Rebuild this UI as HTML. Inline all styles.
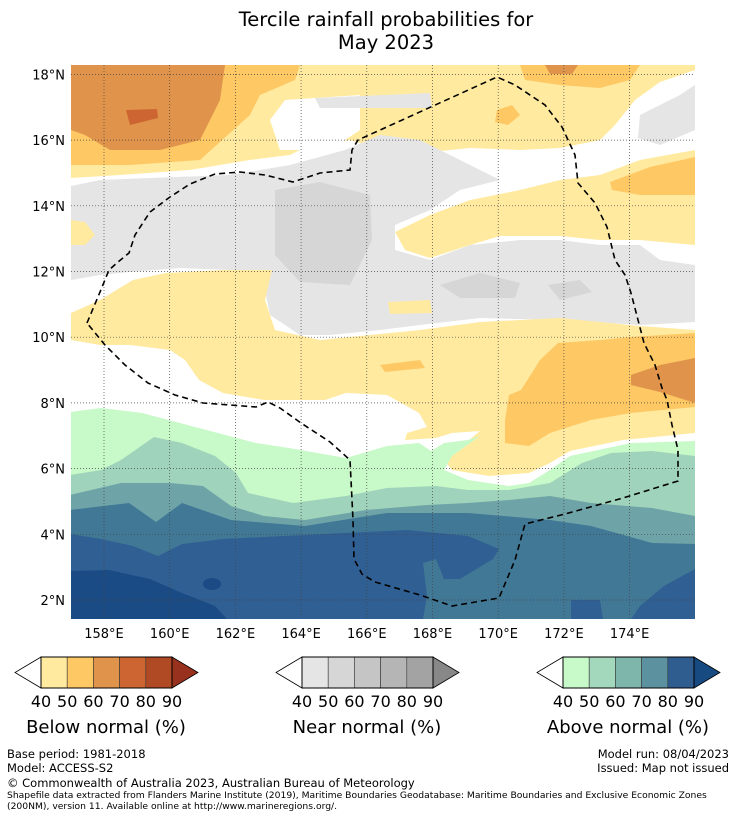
<!DOCTYPE html>
<html><head><meta charset="utf-8">
<style>
body{margin:0;width:736px;height:816px;background:#fff;font-family:"DejaVu Sans","Liberation Sans",sans-serif;overflow:hidden;position:relative}
.t{position:absolute;white-space:nowrap;color:#000}
svg text{font-family:"DejaVu Sans","Liberation Sans",sans-serif}
</style></head>
<body>
<div class="t" style="left:0;width:772px;text-align:center;top:8px;font-size:19.5px;line-height:23px">Tercile rainfall probabilities for<br>May 2023</div>
<svg id="map" width="736" height="816" style="position:absolute;left:0;top:0">
<defs><clipPath id="c"><rect x="71" y="65" width="624" height="554"/></clipPath></defs>
<g clip-path="url(#c)">
<rect x="71" y="65" width="624" height="554" fill="#fff"/>
<polygon fill="#ffeaa0" points="71,65 695,65 695,75 660,85 640,100 620,120 600,140 560,148 520,150 470,148 400,155 350,140 310,145 290,155 250,160 190,170 120,175 71,178"/>
<polygon fill="#fff" points="285,100 360,95 360,130 330,150 280,150 270,120"/>
<polygon fill="#e5e5e5" points="315,98 430,93 432,108 320,108"/>
<polygon fill="#fec965" points="71,65 300,65 295,80 260,95 250,115 200,160 130,165 71,165"/>
<polygon fill="#fec965" points="520,65 640,65 630,80 600,88 560,85 525,80"/>
<polygon fill="#e0934a" points="545,65 578,65 572,74 550,74"/>
<polygon fill="#fec965" points="497,110 512,105 520,115 508,125 495,122"/>
<polygon fill="#e0934a" points="71,65 225,65 220,100 200,140 160,150 110,150 85,135 71,130"/>
<polygon fill="#cd6532" points="126,110 157,109 158,118 130,125"/>
<polygon fill="#fff" points="695,70 660,82 635,100 615,125 600,145 580,160 625,158 660,148 695,140"/>
<polygon fill="#e5e5e5" points="640,115 680,95 695,85 695,130 660,145 638,138"/>
<polygon fill="#e5e5e5" points="71,186 100,180 150,178 230,175 290,165 345,150 380,135 420,140 470,165 500,180 460,190 430,210 395,225 395,250 430,260 470,245 520,240 560,240 600,245 640,245 660,260 695,265 695,322 640,325 560,320 480,318 420,325 380,330 330,335 300,335 270,315 265,290 270,275 230,270 180,268 130,272 100,275 71,280"/>
<polygon fill="#d6d6d6" points="275,190 320,182 370,195 372,240 350,285 300,282 275,255"/>
<polygon fill="#d6d6d6" points="440,285 480,273 520,283 515,298 460,298"/>
<polygon fill="#d6d6d6" points="548,285 580,280 592,292 560,300"/>
<polygon fill="#ffeaa0" points="71,220 85,222 95,235 85,245 71,245"/>
<polygon fill="#ffeaa0" points="395,232 430,215 470,200 520,190 560,180 600,175 640,160 695,150 695,245 640,240 600,240 560,236 500,236 470,245 430,258 405,250"/>
<polygon fill="#fec965" points="610,182 650,167 695,157 695,195 640,195 612,190"/>
<polygon fill="#ffeaa0" points="71,313 100,300 133,280 166,273 223,270 272,270 265,300 275,330 320,340 420,330 480,322 560,318 640,326 695,330 695,433 623,440 570,451 550,463 529,473 489,476 452,470 444,460 468,441 480,431 452,433 436,438 405,440 407,433 427,427 419,413 387,395 346,393 325,400 264,400 223,393 199,380 185,360 170,350 130,345 100,345 71,340"/>
<polygon fill="#ffeaa0" points="388,302 430,300 432,313 390,314"/>
<polygon fill="#fec965" points="380,365 420,360 425,368 385,372"/>
<polygon fill="#fec965" points="521,390 540,360 558,343 600,340 631,337 695,333 695,407 631,413 591,420 550,433 529,446 505,443 505,420 509,395"/>
<polygon fill="#e0934a" points="631,375 660,365 695,358 695,403 660,392 631,385"/>
<polygon fill="#c8f9c8" points="70,412 101,408 142,413 195,427 256,443 289,448 346,458 387,446 419,443 431,451 444,443 468,440 480,436 452,456 444,470 468,480 509,486 529,483 550,470 570,456 631,443 695,441 695,619 71,619"/>
<polygon fill="#a0d3bb" points="70,475 101,470 121,460 154,437 182,443 215,456 236,473 248,493 293,503 346,496 387,488 436,486 468,490 509,490 550,483 582,463 611,453 652,451 695,456 695,619 71,619"/>
<polygon fill="#6ea3a7" points="70,495 121,483 170,483 203,486 231,506 264,516 305,520 366,510 427,505 468,503 509,500 550,496 591,503 652,508 695,516 695,619 71,619"/>
<polygon fill="#417896" points="70,510 129,503 156,522 182,503 231,520 305,526 387,513 468,513 550,520 591,526 652,543 695,544 695,619 71,619"/>
<polygon fill="#305f93" points="70,534 101,539 133,546 158,556 182,544 223,539 284,536 346,533 407,530 468,536 499,549 493,559 460,579 444,579 436,559 423,563 427,596 423,619 71,619"/>
<polygon fill="#305f93" points="695,569 664,586 640,606 631,619 695,619"/>
<polygon fill="#305f93" points="571,600 600,600 603,619 571,619"/>
<polygon fill="#1a4b84" points="71,571 109,570 150,579 182,593 215,606 227,619 71,619"/>
<ellipse cx="212" cy="584" rx="9" ry="6" fill="#1a4b84"/>
<g id="grid"></g>
<polyline fill="none" stroke="#000" stroke-width="1.6" stroke-dasharray="6,4" points="87,323 100,292 109,270 118,262 129,253 135,235 150,212 170,197 190,184 215,174 240,172 265,175 293,182 320,173 350,170 352,150 358,140 497,77 515,85 545,105 562,127 575,155 578,183 595,203 607,227 615,260 625,275 631,293 644,343 655,365 662,388 667,400 672,425 678,450 678,481 623,498 565,514 525,524 515,560 499,598 452,606 420,595 375,582 362,574 354,559 353,520 350,460 330,442 301,423 280,408 268,402 256,407 203,403 175,395 148,383 125,365 105,345 87,323"/>
</g>
<g id="axes"></g>
<g id="cbars"></g>
</svg>
<div class="t" style="left:7px;top:747px;font-size:11.5px">Base period: 1981-2018</div>
<div class="t" style="left:7px;top:761px;font-size:11.5px">Model: ACCESS-S2</div>
<div class="t" style="right:7px;top:747px;font-size:11.5px">Model run: 08/04/2023</div>
<div class="t" style="right:7px;top:761px;font-size:11.5px">Issued: Map not issued</div>
<div class="t" style="left:7px;top:776px;font-size:11.5px">© Commonwealth of Australia 2023, Australian Bureau of Meteorology</div>
<div class="t" style="left:7px;top:790px;font-size:9.2px;line-height:11px">Shapefile data extracted from Flanders Marine Institute (2019), Maritime Boundaries Geodatabase: Maritime Boundaries and Exclusive Economic Zones<br>(200NM), version 11. Available online at http://www.marineregions.org/.</div>
<script>
const lonTicks=[158,160,162,164,166,168,170,172,174];
const latTicks=[2,4,6,8,10,12,14,16,18];
const cbTitles=["Below normal (%)","Near normal (%)","Above normal (%)"];
const cbLevels=[40,50,60,70,80,90];
const belowColors=["#ffeaa0","#fec965","#e0934a","#cd6532","#b04a25","#98321e"];
const nearColors=["#e5e5e5","#d6d6d6","#c5c5c5","#b5b5b5","#a3a3a3","#888888"];
const aboveColors=["#c8f9c8","#a4d8bd","#7fb6ac","#5c92a0","#2f5d90","#164a80"];
const NS="http://www.w3.org/2000/svg";
const xs=lon=>104+(lon-158)*32.85;
const ys=lat=>600-(lat-2)*32.85;
function mk(tag,at,parent){const e=document.createElementNS(NS,tag);for(const k in at)e.setAttribute(k,at[k]);parent.appendChild(e);return e;}
const grid=document.getElementById('grid'),axes=document.getElementById('axes');
lonTicks.forEach(v=>{
 const l=mk('line',{x1:xs(v),x2:xs(v),y1:65,y2:619,stroke:'#444','stroke-width':0.7,'stroke-dasharray':'1,2'},grid);
 
 
 const t=mk('text',{x:xs(v),y:638,'text-anchor':'middle','font-size':13},axes);
 t.textContent=v+'°E';
 
 
});
latTicks.forEach(v=>{
 const l=mk('line',{x1:71,x2:695,y1:ys(v),y2:ys(v),stroke:'#444','stroke-width':0.7,'stroke-dasharray':'1,2'},grid);
 
 
 const t=mk('text',{x:65,y:ys(v)+5,'text-anchor':'end','font-size':13},axes);
 t.textContent=v+'°N';
 
 
});
const cb=document.getElementById('cbars');
const sets=[belowColors,nearColors,aboveColors];
const lefts=[41,302,563];
sets.forEach((cols,i)=>{
 const x0=lefts[i],w=131/(cols.length-1),y0=657,h=31;
 const g=mk('g',{},cb);
 
 
 mk('polygon',{points:`${x0},${y0} ${x0-26},${y0+h/2} ${x0},${y0+h}`,fill:'#fff',stroke:'#000','stroke-width':0.8},g);
 for(let k=0;k<cols.length-1;k++){
  const r=mk('rect',{x:x0+k*w,y:y0,width:w,height:h,fill:cols[k],stroke:'#333','stroke-width':0.6},g);
  
  
 }
 const xe=x0+131;
 mk('polygon',{points:`${xe},${y0} ${xe+26},${y0+h/2} ${xe},${y0+h}`,fill:cols[cols.length-1],stroke:'#000','stroke-width':0.8},g);
 mk('rect',{x:x0,y:y0,width:131,height:h,fill:'none',stroke:'#000','stroke-width':1},g);
 cbLevels.forEach((lv,k)=>{
  const t=mk('text',{x:x0+k*w,y:707,'text-anchor':'middle','font-size':16},g);
  t.textContent=lv;
  
  
 });
 const tt=mk('text',{x:x0+65,y:733,'text-anchor':'middle','font-size':18},g);
 tt.textContent=cbTitles[i];
 
 
});
</script>
</body></html>
